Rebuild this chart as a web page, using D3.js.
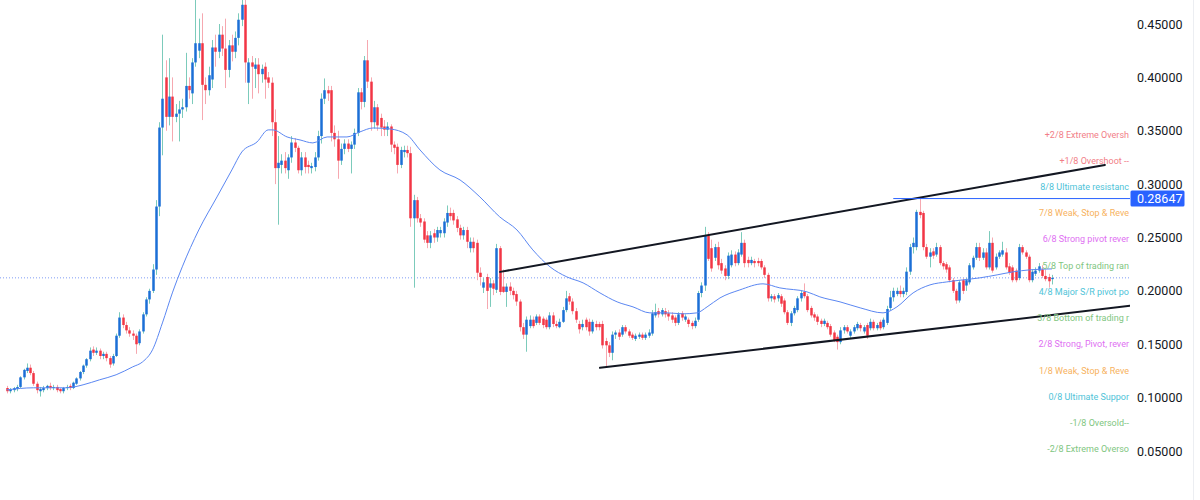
<!DOCTYPE html>
<html><head><meta charset="utf-8">
<script src="https://cdn.jsdelivr.net/npm/d3@7"></script>
<style>html,body{margin:0;padding:0;background:#fff}svg{display:block}</style>
</head><body>
<svg id="chart" width="1200" height="500"></svg>
<script>
// ---- candle data (one entry per bar) ----
const opens = [
.109,.106,.107,.108,.11,.119,.125,.128,.123,.113,
.106,.107,.109,.111,.109,.11,.108,.106,.109,.111,
.109,.113,.118,.124,.13,.136,.145,.142,.144,.139,
.141,.137,.132,.139,.158,.175,.168,.163,.16,.158,
.151,.162,.178,.192,.2,.22,.279,.353,.40,.363,
.382,.363,.366,.37,.372,.392,.385,.414,.425,.432,
.393,.388,.398,.428,.424,.44,.427,.407,.43,.424,
.437,.454,.468,.395,.414,.408,.412,.403,.41,.40,
.395,.358,.315,.318,.322,.313,.325,.339,.334,.313,
.325,.318,.315,.316,.325,.345,.38,.388,.388,.348,
.342,.322,.333,.338,.333,.337,.348,.386,.377,.416,
.396,.358,.372,.362,.354,.351,.354,.337,.335,.318,
.33,.332,.329,.268,.285,.268,.265,.252,.245,.254,
.25,.254,.254,.264,.273,.273,.267,.259,.252,.257,
.24,.246,.245,.217,.203,.213,.203,.207,.201,.24,
.204,.199,.204,.2,.197,.19,.166,.159,.167,.173,
.17,.176,.174,.173,.166,.177,.169,.166,.171,.182,
.195,.19,.181,.169,.166,.173,.171,.162,.169,.169,
.169,.153,.149,.142,.159,.161,.159,.166,.162,.159,
.155,.157,.159,.156,.158,.16,.177,.181,.178,.181,
.179,.177,.175,.17,.179,.173,.173,.17,.167,.173,
.198,.205,.252,.24,.231,.241,.226,.221,.214,.224,
.234,.226,.234,.245,.229,.226,.228,.228,.228,.222,
.215,.193,.195,.193,.195,.191,.18,.17,.179,.182,
.193,.199,.195,.184,.178,.176,.172,.169,.17,.167,
.161,.157,.152,.163,.166,.158,.162,.165,.168,.162,
.168,.165,.171,.165,.171,.166,.17,.184,.194,.197,
.2,.197,.199,.218,.241,.241,.274,.273,.241,.232,
.237,.234,.241,.226,.225,.222,.21,.2,.191,.21,
.205,.208,.222,.231,.241,.231,.236,.222,.245,.222,
.232,.234,.236,.223,.222,.219,.212,.241,.236,.232,
.21,.216,.219,.22,.214,.213,.211];
const highs = [
.111,.109,.11,.112,.12,.127,.132,.131,.125,.115,
.11,.111,.112,.114,.112,.112,.109,.11,.112,.113,
.115,.119,.125,.131,.137,.147,.148,.147,.146,.143,
.143,.139,.141,.16,.18,.178,.171,.166,.163,.16,
.164,.18,.194,.202,.225,.285,.358,.44,.416,.418,
.40,.375,.378,.38,.423,.40,.418,.475,.455,.46,
.40,.41,.435,.44,.45,.448,.455,.435,.44,.443,
.46,.475,.475,.418,.42,.418,.418,.412,.414,.405,
.40,.37,.345,.328,.33,.328,.345,.343,.336,.33,
.33,.322,.32,.33,.35,.385,.399,.392,.392,.355,
.35,.338,.342,.342,.34,.352,.39,.39,.42,.435,
.40,.378,.375,.366,.36,.358,.356,.34,.338,.335,
.336,.336,.335,.29,.288,.272,.268,.256,.256,.258,
.26,.26,.268,.28,.278,.276,.27,.262,.26,.26,
.25,.25,.248,.222,.212,.216,.212,.21,.244,.242,
.22,.207,.208,.203,.2,.192,.17,.176,.177,.176,
.178,.178,.176,.175,.18,.18,.172,.174,.185,.2,
.198,.193,.184,.172,.173,.175,.174,.173,.172,.171,
.172,.156,.152,.162,.163,.164,.168,.168,.164,.161,
.16,.161,.161,.161,.164,.182,.188,.184,.184,.184,
.182,.18,.177,.18,.181,.178,.175,.172,.175,.2,
.208,.26,.255,.248,.244,.246,.23,.224,.236,.238,
.237,.239,.255,.248,.232,.232,.23,.231,.23,.224,
.217,.197,.197,.198,.197,.193,.182,.181,.186,.195,
.2,.207,.197,.186,.18,.178,.174,.174,.172,.169,
.163,.159,.166,.168,.168,.164,.168,.171,.17,.168,
.17,.174,.173,.17,.173,.175,.186,.2,.203,.203,
.205,.203,.222,.244,.25,.276,.288,.275,.244,.24,
.24,.245,.243,.228,.227,.224,.212,.202,.21,.212,
.212,.226,.233,.245,.245,.24,.24,.256,.25,.235,
.238,.246,.24,.226,.224,.221,.244,.243,.238,.234,
.22,.222,.226,.224,.22,.216,.215];
const lows = [
.104,.104,.105,.106,.109,.117,.123,.121,.111,.104,
.101,.105,.107,.107,.107,.105,.104,.104,.107,.107,
.108,.112,.116,.122,.128,.134,.139,.14,.136,.136,
.134,.128,.13,.138,.156,.165,.16,.157,.154,.141,
.149,.16,.176,.188,.198,.215,.27,.327,.35,.355,
.34,.358,.34,.362,.368,.38,.375,.41,.418,.36,
.375,.383,.39,.41,.418,.42,.39,.40,.415,.418,
.43,.448,.395,.375,.38,.39,.385,.395,.38,.39,
.345,.30,.262,.31,.31,.305,.32,.33,.31,.308,
.31,.31,.31,.312,.322,.338,.375,.378,.34,.335,
.305,.318,.328,.33,.31,.333,.345,.37,.372,.39,
.35,.352,.35,.345,.345,.345,.33,.328,.31,.315,
.325,.325,.26,.203,.264,.26,.245,.24,.24,.245,
.246,.25,.25,.26,.266,.262,.255,.248,.248,.24,
.236,.236,.21,.205,.198,.183,.185,.196,.198,.196,
.198,.185,.196,.192,.186,.162,.155,.143,.165,.165,
.168,.168,.165,.164,.164,.166,.165,.165,.17,.18,
.187,.178,.17,.16,.163,.163,.158,.16,.163,.163,
.146,.129,.138,.135,.155,.154,.157,.16,.156,.154,
.153,.155,.154,.154,.156,.158,.175,.175,.176,.175,
.172,.17,.167,.168,.172,.171,.166,.164,.165,.171,
.194,.2,.228,.218,.228,.22,.216,.21,.211,.222,
.223,.224,.232,.222,.222,.224,.222,.223,.22,.212,
.19,.19,.189,.19,.185,.178,.168,.167,.177,.18,
.19,.193,.18,.175,.172,.168,.166,.167,.164,.157,
.152,.145,.15,.16,.16,.156,.16,.163,.162,.16,
.155,.163,.163,.163,.163,.164,.168,.182,.19,.195,
.194,.194,.196,.215,.235,.238,.268,.238,.23,.222,
.23,.232,.224,.22,.217,.208,.198,.188,.189,.197,
.2,.206,.22,.229,.228,.229,.22,.22,.217,.22,
.23,.232,.22,.215,.208,.208,.21,.234,.23,.208,
.208,.214,.217,.212,.209,.203,.206];
const closes = [
.106,.108,.109,.11,.119,.126,.128,.123,.113,.107,
.108,.109,.111,.109,.11,.107,.106,.109,.11,.109,
.114,.118,.124,.13,.136,.144,.142,.144,.139,.141,
.137,.131,.139,.158,.175,.168,.163,.16,.158,.15,
.162,.178,.192,.2,.22,.279,.353,.38,.363,.382,
.363,.366,.37,.372,.392,.388,.414,.432,.432,.393,
.388,.402,.428,.424,.44,.427,.407,.43,.424,.437,
.454,.468,.414,.414,.41,.412,.403,.408,.398,.395,
.358,.315,.32,.322,.315,.325,.339,.334,.313,.325,
.316,.316,.317,.325,.345,.38,.388,.385,.348,.342,
.322,.333,.338,.333,.337,.348,.386,.377,.416,.396,
.358,.372,.355,.353,.351,.354,.337,.334,.318,.332,
.332,.329,.268,.285,.268,.264,.248,.245,.252,.25,
.257,.257,.265,.273,.27,.266,.259,.252,.257,.246,
.246,.24,.217,.213,.208,.2,.207,.202,.24,.199,
.199,.204,.2,.196,.19,.166,.159,.173,.173,.167,
.176,.17,.168,.166,.177,.169,.167,.171,.182,.193,
.19,.181,.173,.164,.169,.166,.162,.171,.166,.166,
.149,.149,.142,.159,.161,.157,.166,.162,.158,.156,
.158,.159,.156,.159,.161,.179,.18,.178,.182,.178,
.176,.173,.17,.178,.175,.176,.169,.167,.172,.198,
.205,.252,.23,.221,.241,.224,.219,.214,.233,.234,
.226,.236,.245,.226,.226,.229,.226,.226,.222,.215,
.193,.195,.192,.196,.188,.18,.17,.179,.184,.193,
.198,.195,.182,.177,.175,.171,.169,.172,.166,.159,
.154,.152,.163,.166,.162,.162,.166,.169,.165,.166,
.158,.171,.165,.168,.165,.173,.183,.194,.2,.2,
.197,.2,.218,.241,.245,.274,.271,.241,.232,.236,
.233,.241,.226,.223,.22,.21,.2,.191,.208,.2,
.21,.224,.231,.241,.231,.236,.222,.245,.219,.232,
.236,.238,.222,.217,.21,.21,.241,.236,.232,.21,
.218,.219,.223,.214,.211,.209,.2122];

// ---- moving average (bar index, value) ----
const maIndex = [0,8,18,23,28,33,38,41,44,47,50,53,58,63.5,68,71,75.6,79,80.4,84.7,
  88.6,92.5,96.8,102.8,106.7,110.7,115.8,121,124.9,130.9,137,143,149,154.2,159,164.2,169.3,174.2,179.3,184.5,
  189.3,194.4,199.6,204.4,208.6,211.7,215.6,221.6,228.6,233.7,241.9,245.8,251.9,258,264.9,269.1,274,279.1,284.2,289,
  294.2,299.4,304.2,309.3,316];
const maValues = [.1073,.1092,.1092,.112,.1167,.1214,.1288,.1335,.1448,.17,.1981,.2225,.2571,.288,.3133,.3301,.3395,.3508,.3508,.3442,
  .3414,.3386,.3442,.3442,.3489,.3526,.3517,.3461,.332,.3133,.3039,.288,.2693,.2571,.2384,.2225,.2131,.2075,.1981,.1897,
  .185,.1794,.1794,.1785,.1794,.185,.1934,.2009,.2066,.2028,.1991,.1944,.1897,.1841,.1794,.185,.1981,.2056,.2084,.2103,
  .2122,.215,.2178,.2197,.2206];

// ---- drawings ----
const upperTrendIndex = [149.1, 332];
const upperTrendPrice = [0.2178, 0.318];
const lowerTrendIndex = [179.3, 339.6];
const lowerTrendPrice = [0.1279, 0.186];
const levelLineIndex = [268, 339.6];
const levelLinePrice = 0.28647;

// ---- axis ----
const yTicks = [0.05, 0.10, 0.15, 0.20, 0.25, 0.30, 0.35, 0.40, 0.45];

// ---- Murrey math labels (as visible, cut off at the price scale) ----
const murreyLabels = ["+2/8 Extreme Oversh","+1/8 Overshoot --","8/8 Ultimate resistanc","7/8 Weak, Stop & Reve",
  "6/8 Strong pivot rever","5/8 Top of trading ran","4/8 Major S/R pivot po","3/8 Bottom of trading r",
  "2/8 Strong, Pivot, rever","1/8 Weak, Stop & Reve","0/8 Ultimate Suppor","-1/8 Oversold--","-2/8 Extreme Overso"];
const murreyPrices = [0.3461,0.3217,0.2974,0.273,0.2487,0.2234,0.1991,0.1747,0.1504,0.1251,0.1008,0.0764,0.052];
const murreyColors = ["#f27e87","#f27e87","#4fc3d8","#f7b25e","#e070f2","#7fc681","#4fc3d8","#7fc681",
  "#e070f2","#f7b25e","#4fc3d8","#7fc681","#7fc681"];

const svg = d3.select("#chart");
const plotRight = 1130;
const x = d3.scaleLinear().domain([0, closes.length - 1]).range([7, 1052]);
const y = d3.scaleLinear().domain([0.05, 0.45]).range([451, 24]);

svg.append("defs").append("clipPath").attr("id","plotclip")
  .append("rect").attr("x",0).attr("y",0).attr("width",plotRight).attr("height",500);

const plot = svg.append("g").attr("clip-path","url(#plotclip)");

// last price dotted line
const lastClose = closes[closes.length - 1];
plot.append("line").attr("x1",0).attr("x2",plotRight)
  .attr("y1",y(lastClose)).attr("y2",y(lastClose))
  .attr("stroke","#7f9cf5").attr("stroke-width",1).attr("stroke-dasharray","1,2");

// candles
const bw = 2.5;
const idx = d3.range(closes.length);
const upBody = "#1b6fd6", upWick = "#7ccbbb", dnBody = "#f23645", dnWick = "#f6a8b0";
plot.append("g").selectAll("line").data(idx).join("line")
  .attr("x1", i => Math.round(x(i)) + 0.5).attr("x2", i => Math.round(x(i)) + 0.5)
  .attr("y1", i => y(Math.max(highs[i], opens[i], closes[i])))
  .attr("y2", i => y(Math.min(lows[i], opens[i], closes[i])))
  .attr("stroke", i => closes[i] >= opens[i] ? upWick : dnWick).attr("stroke-width", 1);
plot.append("g").selectAll("rect").data(idx).join("rect")
  .attr("x", i => Math.round(x(i)) + 0.5 - bw / 2)
  .attr("width", bw)
  .attr("y", i => y(Math.max(opens[i], closes[i])))
  .attr("height", i => Math.max(1, Math.abs(y(opens[i]) - y(closes[i]))))
  .attr("fill", i => closes[i] >= opens[i] ? upBody : dnBody);

// moving average
plot.append("path")
  .attr("d", d3.line().x(i => x(maIndex[i])).y(i => y(maValues[i])).curve(d3.curveMonotoneX)(d3.range(maIndex.length)))
  .attr("fill","none").attr("stroke","#5b87f2").attr("stroke-width",1);

// trend lines
[[upperTrendIndex, upperTrendPrice],[lowerTrendIndex, lowerTrendPrice]].forEach(([ix, pr]) => {
  plot.append("line")
    .attr("x1", x(ix[0])).attr("y1", y(pr[0]))
    .attr("x2", x(ix[1])).attr("y2", y(pr[1]))
    .attr("stroke","#131722").attr("stroke-width",2).attr("stroke-linecap","round");
});

// horizontal level
plot.append("line").attr("x1", x(levelLineIndex[0])).attr("x2", x(levelLineIndex[1]))
  .attr("y1", y(levelLinePrice)).attr("y2", y(levelLinePrice))
  .attr("stroke","#2962ff").attr("stroke-width",1);

// Murrey labels
plot.append("g").selectAll("text").data(murreyLabels).join("text")
  .attr("x", 1129).attr("y", (d,i) => y(murreyPrices[i]))
  .attr("dy","0.35em").attr("text-anchor","end")
  .attr("font-family","Roboto, 'Noto Sans', sans-serif").attr("font-size", 9)
  .attr("fill", (d,i) => murreyColors[i]).text(d => d);

// right axis
const axis = d3.axisRight(y).tickValues(yTicks).tickFormat(d3.format(".5f")).tickSize(0).tickPadding(0);
const ax = svg.append("g").attr("transform","translate(1137,0)").call(axis);
ax.select(".domain").remove();
ax.selectAll("text").attr("font-family","Roboto, 'Noto Sans', sans-serif").attr("font-size",12.5).attr("fill","#131722");

// price tag
const tag = svg.append("g");
tag.append("rect").attr("x",1130.5).attr("y",y(levelLinePrice)-8).attr("width",54).attr("height",16)
  .attr("rx",1.5).attr("fill","#2962ff");
tag.append("text").attr("x",1137).attr("y",y(levelLinePrice)).attr("dy","0.35em")
  .attr("font-family","Roboto, 'Noto Sans', sans-serif").attr("font-size",12.5).attr("fill","#ffffff")
  .text(d3.format(".5f")(levelLinePrice));

// right edge separator
svg.append("line").attr("x1",1193.5).attr("x2",1193.5).attr("y1",0).attr("y2",500)
  .attr("stroke","#eceef2").attr("stroke-width",1);
</script>
</body></html>
